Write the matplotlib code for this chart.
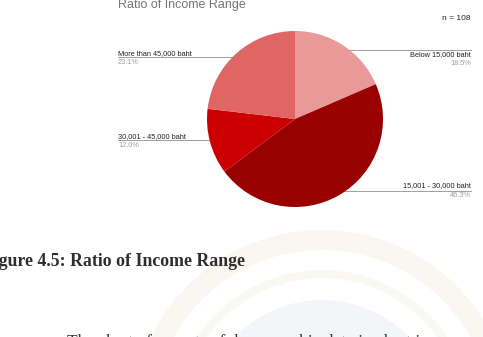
import matplotlib
matplotlib.use('Agg')
import matplotlib.pyplot as plt
from matplotlib.patches import Circle, Wedge
import numpy as np

# data (n = 108 respondents)
labels = ['Below 15,000 baht', '15,001 - 30,000 baht', '30,001 - 45,000 baht', 'More than 45,000 baht']
counts = [20, 50, 13, 25]
colors = ['#ea9999', '#990000', '#cc0000', '#e06666']
title = 'Ratio of Income Range'
caption = 'Figure 4.5: Ratio of Income Range'
body = 'The chart of aspects of demographic data in chart is'

W, H = 483, 337
fig = plt.figure(figsize=(W / 100, H / 100), dpi=100, facecolor='white')

# page layer in pixel coords
bg = fig.add_axes([0, 0, 1, 1])
bg.set_xlim(0, W)
bg.set_ylim(H, 0)
bg.axis('off')

# faint university watermark behind the text
bg.add_patch(Wedge((322, 420), 190, 0, 360, width=20, facecolor='#f9f7ef', edgecolor='none', zorder=0))
bg.add_patch(Wedge((322, 420), 150, 0, 360, width=8, facecolor='#faf8f2', edgecolor='none', zorder=0))
bg.add_patch(Circle((322, 420), 120, facecolor='#f3f5f9', edgecolor='none', zorder=0))

# chart texts
bg.text(118, 5, title, fontsize=9, color='#757575', family='Liberation Sans', va='center', ha='left')
bg.text(471, 19, 'n = 108', fontsize=6, color='#222222', family='Liberation Sans', va='center', ha='right')

# pie
cx, cy, R = 295, 119, 88
pax = fig.add_axes([(cx - R) / W, 1 - (cy + R) / H, 2 * R / W, 2 * R / H])
wedges, _ = pax.pie(counts, colors=colors, startangle=90, counterclock=False,
                    wedgeprops=dict(edgecolor='none'))
pax.set_xlim(-1, 1)
pax.set_ylim(-1, 1)
pax.axis('off')

total = sum(counts)
# offsets of name / percent text relative to the leader line (pixels)
offs = [(5, 14), (-5, 5), (-4, 5), (-4, 5)]
for w, lab, c, (dn, dp) in zip(wedges, labels, counts, offs):
    mid = np.deg2rad((w.theta1 + w.theta2) / 2)
    px = cx + 0.94 * R * np.cos(mid)
    py = cy - 0.94 * R * np.sin(mid)
    right = np.cos(mid) > 0
    ex = 471 if right else 118
    ha = 'right' if right else 'left'
    bg.plot([px, ex], [py, py], color='#9e9e9e', lw=0.7, zorder=3)
    bg.plot([px], [py], 'o', ms=1.2, color='#bdbdbd', zorder=4)
    bg.text(ex, py + dn, lab, fontsize=5.3, color='#222222', family='Liberation Sans', ha=ha, va='center')
    bg.text(ex, py + dp, f'{100 * c / total:.1f}%', fontsize=5.3, color='#9e9e9e',
            family='Liberation Sans', ha=ha, va='center')

# document caption and body text (page crop cuts them at the edges)
bg.text(245, 262, caption, fontsize=12.8, fontweight='bold', color='#2e2e2e',
        family='Liberation Serif', ha='right', va='center')
bg.text(67, 346, body, fontsize=12.5, color='#333333', family='Liberation Serif',
        ha='left', va='baseline')

fig.savefig('out.png', dpi=100, facecolor='white')
